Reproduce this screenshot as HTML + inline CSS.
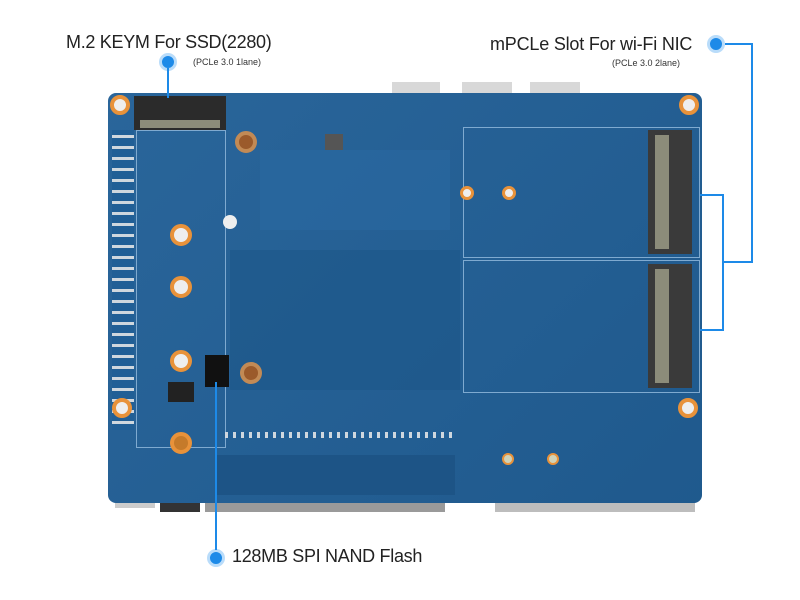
<!DOCTYPE html>
<html><head><style>
body{margin:0;width:800px;height:600px;background:#fff;position:relative;overflow:hidden;font-family:"Liberation Sans",sans-serif}
.a{position:absolute}
.hole{position:absolute;border-radius:50%;background:#eee;border:4px solid #e8923a;box-sizing:border-box}
.dot{position:absolute;width:12px;height:12px;border-radius:50%;background:#1d8ae8;border:3px solid #b9dcfa;box-sizing:content-box}
.ln{position:absolute;background:#1d8ae8}
</style></head><body>
<div class="a" style="left:392px;top:82px;width:48px;height:14px;background:#d8d8d8"></div>
<div class="a" style="left:462px;top:82px;width:50px;height:14px;background:#d8d8d8"></div>
<div class="a" style="left:530px;top:82px;width:50px;height:14px;background:#d8d8d8"></div>
<div class="a" style="left:205px;top:496px;width:240px;height:16px;background:#9a9a9a"></div>
<div class="a" style="left:160px;top:498px;width:40px;height:14px;background:#333"></div>
<div class="a" style="left:495px;top:498px;width:200px;height:14px;background:#bdbdbd"></div>
<div class="a" style="left:115px;top:498px;width:40px;height:10px;background:#ccc"></div>
<div class="a" style="left:108px;top:93px;width:594px;height:410px;background:#215f96;border-radius:8px"></div>
<div class="a" style="left:108px;top:93px;width:594px;height:410px;border-radius:8px;background:linear-gradient(135deg,rgba(255,255,255,0.04),rgba(0,0,0,0.06))"></div>
<div class="a" style="left:230px;top:250px;width:230px;height:140px;background:#1d5789;opacity:.6"></div>
<div class="a" style="left:260px;top:150px;width:190px;height:80px;background:#2a6aa3;opacity:.5"></div>
<div class="a" style="left:136px;top:130px;width:90px;height:318px;border:1px solid #7faad0;box-sizing:border-box"></div>
<div class="a" style="left:463px;top:127px;width:237px;height:131px;border:1px solid #7faad0;box-sizing:border-box"></div>
<div class="a" style="left:463px;top:260px;width:237px;height:133px;border:1px solid #7faad0;box-sizing:border-box"></div>
<div class="a" style="left:134px;top:96px;width:92px;height:34px;background:#2b2b2b"></div>
<div class="a" style="left:140px;top:120px;width:80px;height:8px;background:#8c8c7a"></div>
<div class="a" style="left:648px;top:130px;width:44px;height:124px;background:#3a3a3a"></div>
<div class="a" style="left:655px;top:135px;width:14px;height:114px;background:#8c8c7a"></div>
<div class="a" style="left:648px;top:264px;width:44px;height:124px;background:#3a3a3a"></div>
<div class="a" style="left:655px;top:269px;width:14px;height:114px;background:#8c8c7a"></div>
<div class="a" style="left:112px;top:130px;width:22px;height:300px;background:repeating-linear-gradient(#215f96 0 5px,#cfd7de 5px 8px,#215f96 8px 11px)"></div>
<div class="a" style="left:225px;top:432px;width:230px;height:6px;background:repeating-linear-gradient(90deg,#cfd7de 0 3px,#215f96 3px 8px)"></div>
<div class="a" style="left:215px;top:455px;width:240px;height:40px;background:#1d5486"></div>
<div class="a" style="left:205px;top:355px;width:24px;height:32px;background:#111"></div>
<div class="a" style="left:168px;top:382px;width:26px;height:20px;background:#222"></div>
<div class="a" style="left:325px;top:134px;width:18px;height:16px;background:#555"></div>
<div class="hole" style="left:110px;top:95px;width:20px;height:20px"></div>
<div class="hole" style="left:679px;top:95px;width:20px;height:20px"></div>
<div class="hole" style="left:112px;top:398px;width:20px;height:20px"></div>
<div class="hole" style="left:678px;top:398px;width:20px;height:20px"></div>
<div class="hole" style="left:170px;top:224px;width:22px;height:22px"></div>
<div class="hole" style="left:170px;top:276px;width:22px;height:22px"></div>
<div class="hole" style="left:170px;top:350px;width:22px;height:22px"></div>
<div class="hole" style="left:170px;top:432px;width:22px;height:22px;background:#c57a2a"></div>
<div class="hole" style="left:235px;top:131px;width:22px;height:22px;background:#9b5a2b;border-color:#c28a55"></div>
<div class="hole" style="left:240px;top:362px;width:22px;height:22px;background:#9b5a2b;border-color:#c28a55"></div>
<div class="a" style="left:223px;top:215px;width:14px;height:14px;border-radius:50%;background:#eee"></div>
<div class="hole" style="left:460px;top:186px;width:14px;height:14px;border-width:3px"></div>
<div class="hole" style="left:502px;top:186px;width:14px;height:14px;border-width:3px"></div>
<div class="hole" style="left:502px;top:453px;width:12px;height:12px;border-width:2px;background:#cfd2b8"></div>
<div class="hole" style="left:547px;top:453px;width:12px;height:12px;border-width:2px;background:#cfd2b8"></div>
<div class="a" style="left:66px;top:32px;font-size:18px;color:#222;letter-spacing:-0.3px">M.2 KEYM For SSD(2280)</div>
<div class="a" style="left:193px;top:57px;font-size:9px;color:#333">(PCLe 3.0 1lane)</div>
<div class="dot" style="left:159px;top:53px"></div>
<div class="ln" style="left:167px;top:68px;width:2px;height:30px"></div>
<div class="a" style="left:490px;top:34px;font-size:18px;color:#222;letter-spacing:-0.2px">mPCLe Slot For wi-Fi NIC</div>
<div class="a" style="left:612px;top:58px;font-size:9px;color:#333">(PCLe 3.0 2lane)</div>
<div class="dot" style="left:707px;top:35px"></div>
<div class="ln" style="left:725px;top:43px;width:28px;height:2px"></div>
<div class="ln" style="left:751px;top:43px;width:2px;height:220px"></div>
<div class="ln" style="left:722px;top:261px;width:31px;height:2px"></div>
<div class="ln" style="left:722px;top:194px;width:2px;height:137px"></div>
<div class="ln" style="left:700px;top:194px;width:24px;height:2px"></div>
<div class="ln" style="left:700px;top:329px;width:24px;height:2px"></div>
<div class="dot" style="left:207px;top:549px"></div>
<div class="ln" style="left:215px;top:382px;width:2px;height:168px"></div>
<div class="a" style="left:232px;top:546px;font-size:18px;color:#222;letter-spacing:-0.3px">128MB SPI NAND Flash</div>
</body></html>
